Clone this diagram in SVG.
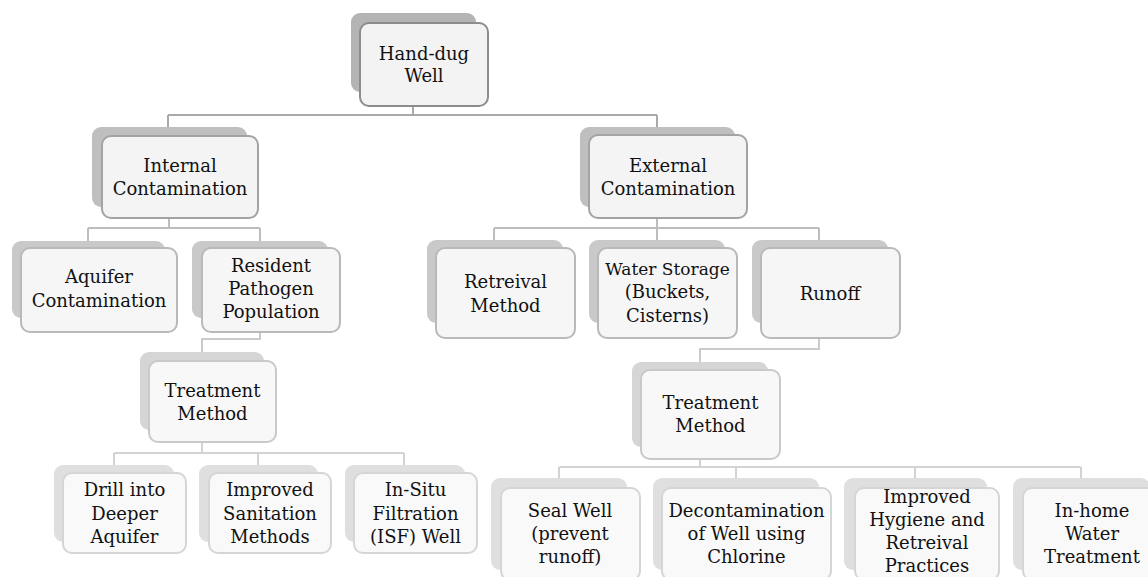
<svg xmlns="http://www.w3.org/2000/svg" width="1148" height="577" viewBox="0 0 1148 577">
<style>
.t text{font-family:"DejaVu Serif",serif;font-size:18px;fill:#111;text-anchor:middle}
.t text.n{font-size:17px}
.c{fill:none;stroke-width:2}
.c1{stroke:#a9a9a9}.c2{stroke:#bdbdbd}.c3{stroke:#cbcbcb}.c4{stroke:#d3d3d3}
.s1{fill:#b4b4b4}.s2{fill:#bfbfbf}.s3{fill:#c9c9c9}.s4{fill:#d5d5d5}.s5{fill:#dfdfdf}
.f{stroke-width:2}
.f1{fill:#f3f3f3;stroke:#8c8c8c}.f2{fill:#f4f4f4;stroke:#a3a3a3}.f3{fill:#f6f6f6;stroke:#b9b9b9}.f4{fill:#f8f8f8;stroke:#c9c9c9}.f5{fill:#f9f9f9;stroke:#d5d5d5}
</style>
<rect width="1148" height="577" fill="#fff"/>
<g id="connectors">
<path class="c c1" d="M413 92V115M168 115H657M168 115V127M657 115V127"/>
<path class="c c2" d="M169 207V228M88 228H260M88 228V241M260 228V241"/>
<path class="c c2" d="M657 207V228M494 228H819M494 228V240M657 228V240M819 228V240"/>
<path class="c c3" d="M260 318V339H202V352"/>
<path class="c c3" d="M819 323V349H700V362"/>
<path class="c c4" d="M202 430V453M114 453H404M114 453V465M258 453V465M404 453V465"/>
<path class="c c4" d="M700 447V467M559 467H1081M559 467V478M736 467V478M915 467V478M1081 467V478"/>
</g>
<g class="t">
<g id="hand-dug-well">
<rect class="s1" x="351" y="13" width="125" height="79" rx="9"/>
<rect class="f f1" x="360" y="23" width="128" height="83" rx="9"/>
<text x="424" y="60">Hand-dug</text><text x="424" y="82">Well</text>
</g>
<g id="internal-contamination">
<rect class="s2" x="92" y="127" width="155" height="80" rx="9"/>
<rect class="f f2" x="102" y="136" width="156" height="82" rx="9"/>
<text x="180" y="172">Internal</text><text x="180" y="195">Contamination</text>
</g>
<g id="external-contamination">
<rect class="s2" x="580" y="127" width="155" height="80" rx="9"/>
<rect class="f f2" x="589" y="135" width="158" height="83" rx="9"/>
<text x="668" y="172">External</text><text x="668" y="195">Contamination</text>
</g>
<g id="aquifer-contamination">
<rect class="s3" x="12" y="241" width="153" height="77" rx="9"/>
<rect class="f f3" x="21" y="248" width="156" height="84" rx="9"/>
<text x="99" y="283">Aquifer</text><text x="99" y="307">Contamination</text>
</g>
<g id="resident-pathogen">
<rect class="s3" x="192" y="241" width="136" height="77" rx="9"/>
<rect class="f f3" x="202" y="248" width="138" height="84" rx="9"/>
<text x="271" y="272">Resident</text><text x="271" y="295">Pathogen</text><text x="271" y="318">Population</text>
</g>
<g id="retreival-method">
<rect class="s3" x="427" y="240" width="136" height="83" rx="9"/>
<rect class="f f3" x="436" y="248" width="139" height="90" rx="9"/>
<text x="505.5" y="288">Retreival</text><text x="505.5" y="312">Method</text>
</g>
<g id="water-storage">
<rect class="s3" x="589" y="240" width="136" height="83" rx="9"/>
<rect class="f f3" x="598" y="248" width="139" height="90" rx="9"/>
<text class="n" x="667.5" y="275">Water Storage</text><text x="667.5" y="298">(Buckets,</text><text x="667.5" y="322">Cisterns)</text>
</g>
<g id="runoff">
<rect class="s3" x="752" y="240" width="136" height="83" rx="9"/>
<rect class="f f3" x="761" y="248" width="139" height="90" rx="9"/>
<text x="830" y="300">Runoff</text>
</g>
<g id="treatment-method-left">
<rect class="s4" x="140" y="352" width="124" height="78" rx="9"/>
<rect class="f f4" x="149" y="361" width="127" height="81" rx="9"/>
<text x="212.5" y="397">Treatment</text><text x="212.5" y="420">Method</text>
</g>
<g id="treatment-method-right">
<rect class="s4" x="632" y="362" width="136" height="85" rx="9"/>
<rect class="f f4" x="641" y="370" width="139" height="89" rx="9"/>
<text x="710.5" y="409">Treatment</text><text x="710.5" y="432">Method</text>
</g>
<g id="drill-deeper">
<rect class="s5" x="54" y="465" width="120" height="77" rx="9"/>
<rect class="f f5" x="63" y="473" width="123" height="80" rx="9"/>
<text x="124.5" y="496">Drill into</text><text x="124.5" y="520">Deeper</text><text x="124.5" y="543">Aquifer</text>
</g>
<g id="improved-sanitation">
<rect class="s5" x="199" y="465" width="119" height="77" rx="9"/>
<rect class="f f5" x="209" y="473" width="122" height="80" rx="9"/>
<text x="270" y="496">Improved</text><text x="270" y="520">Sanitation</text><text x="270" y="543">Methods</text>
</g>
<g id="in-situ-filtration">
<rect class="s5" x="345" y="465" width="120" height="77" rx="9"/>
<rect class="f f5" x="354" y="473" width="123" height="80" rx="9"/>
<text x="415.5" y="496">In-Situ</text><text x="415.5" y="520">Filtration</text><text x="415.5" y="543">(ISF) Well</text>
</g>
<g id="seal-well">
<rect class="s5" x="491" y="478" width="136" height="92" rx="9"/>
<rect class="f f5" x="501" y="488" width="139" height="92" rx="9"/>
<text x="570" y="517">Seal Well</text><text x="570" y="540">(prevent</text><text x="570" y="563">runoff)</text>
</g>
<g id="decontamination">
<rect class="s5" x="653" y="478" width="166" height="92" rx="9"/>
<rect class="f f5" x="662" y="488" width="169" height="92" rx="9"/>
<text x="746.5" y="517">Decontamination</text><text x="746.5" y="540">of Well using</text><text x="746.5" y="563">Chlorine</text>
</g>
<g id="improved-hygiene">
<rect class="s5" x="844" y="478" width="143" height="92" rx="9"/>
<rect class="f f5" x="855" y="488" width="144" height="92" rx="9"/>
<text x="927" y="503">Improved</text><text x="927" y="526">Hygiene and</text><text x="927" y="549">Retreival</text><text x="927" y="572">Practices</text>
</g>
<g id="in-home-treatment">
<rect class="s5" x="1013" y="478" width="137" height="92" rx="9"/>
<rect class="f f5" x="1023" y="488" width="139" height="92" rx="9"/>
<text x="1092" y="517">In-home</text><text x="1092" y="540">Water</text><text x="1092" y="563">Treatment</text>
</g>
</g>
</svg>
